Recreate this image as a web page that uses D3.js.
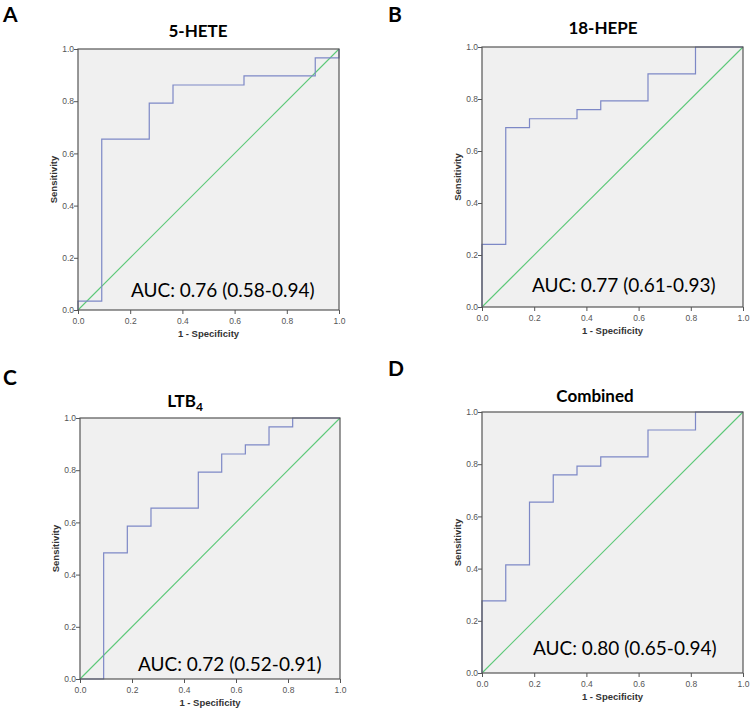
<!DOCTYPE html>
<html>
<head>
    <title>ROC curves</title>
</head>
<body style="margin:0;background:#fff;">
<script type="text/javascript" src="https://cdnjs.cloudflare.com/ajax/libs/d3/7.8.5/d3.min.js"></script>
<svg id='renderer' width="750" height="711"></svg>

<script type="text/javascript">
    // data : ROC corner points (1 - specificity, sensitivity)
    var panelLetters = ['A', 'B', 'C', 'D'];
    var panelTitles = ['5-HETE', '18-HEPE', 'LTB4', 'Combined'];
    var aucLabels = ['AUC: 0.76 (0.58-0.94)', 'AUC: 0.77 (0.61-0.93)', 'AUC: 0.72 (0.52-0.91)', 'AUC: 0.80 (0.65-0.94)'];

    var fprA = [0, 0, 0.091, 0.273, 0.364, 0.636, 0.909, 1];
    var tprA = [0, 0.034, 0.655, 0.793, 0.862, 0.897, 0.966, 1];

    var fprB = [0, 0, 0.091, 0.182, 0.364, 0.455, 0.636, 0.818, 1];
    var tprB = [0, 0.241, 0.690, 0.724, 0.759, 0.793, 0.897, 1, 1];

    var fprC = [0, 0.091, 0.182, 0.273, 0.455, 0.545, 0.636, 0.727, 0.818, 1];
    var tprC = [0, 0.483, 0.586, 0.655, 0.793, 0.862, 0.897, 0.966, 1, 1];

    var fprD = [0, 0, 0.091, 0.182, 0.273, 0.364, 0.455, 0.636, 0.818, 1];
    var tprD = [0, 0.276, 0.414, 0.655, 0.759, 0.793, 0.828, 0.931, 1, 1];

    var tickValues = [0, 0.2, 0.4, 0.6, 0.8, 1.0];

    var fprs = [fprA, fprB, fprC, fprD];
    var tprs = [tprA, tprB, tprC, tprD];

    // layout of each panel (plot box, title, letter, auc text)
    var layout = [
        { x0: 78, x1: 339, y0: 49, y1: 310, titleX: 198, titleY: 37, letterX: 3, letterY: 22, aucX: 131, aucY: 297 },
        { x0: 482, x1: 743, y0: 47, y1: 307, titleX: 603, titleY: 34, letterX: 388, letterY: 22, aucX: 532, aucY: 292 },
        { x0: 80, x1: 340, y0: 418, y1: 679, titleX: 185, titleY: 407, letterX: 3, letterY: 385, aucX: 138, aucY: 671 },
        { x0: 482, x1: 743, y0: 412, y1: 673, titleX: 595, titleY: 402, letterX: 388, letterY: 376, aucX: 533, aucY: 655 }
    ];

    var root = d3.select('#renderer');

    for (var i = 0; i < 4; i++) {
        var L = layout[i];
        var x = d3.scaleLinear().domain([0, 1]).range([L.x0, L.x1]);
        var y = d3.scaleLinear().domain([0, 1]).range([L.y1, L.y0]);
        var g = root.append('g');

        // panel letter
        g.append('text')
            .attr('x', L.letterX).attr('y', L.letterY)
            .attr('font-family', 'Lato, sans-serif')
            .attr('font-weight', 'bold')
            .attr('font-size', 21)
            .attr('fill', '#000')
            .text(panelLetters[i]);

        // title (LTB4 gets a subscript 4)
        var title = g.append('text')
            .attr('x', L.titleX).attr('y', L.titleY)
            .attr('text-anchor', 'middle')
            .attr('font-family', 'Lato, sans-serif')
            .attr('font-weight', 'bold')
            .attr('font-size', 17)
            .attr('fill', '#000');
        if (panelTitles[i] === 'LTB4') {
            title.append('tspan').text('LTB');
            title.append('tspan').attr('dy', 4).attr('font-size', 12).text('4');
        } else {
            title.text(panelTitles[i]);
        }

        // plot background
        g.append('rect')
            .attr('x', L.x0).attr('y', L.y0)
            .attr('width', L.x1 - L.x0).attr('height', L.y1 - L.y0)
            .attr('fill', '#f0f0f0');

        // diagonal reference line
        g.append('line')
            .attr('x1', x(0)).attr('y1', y(0))
            .attr('x2', x(1)).attr('y2', y(1))
            .attr('stroke', '#5cc878')
            .attr('stroke-width', 1.1);

        // roc step curve
        var pts = fprs[i].map(function (f, k) { return [f, tprs[i][k]]; });
        var line = d3.line()
            .x(function (d) { return x(d[0]); })
            .y(function (d) { return y(d[1]); })
            .curve(d3.curveStepAfter);
        g.append('path')
            .attr('d', line(pts))
            .attr('fill', 'none')
            .attr('stroke', '#7d88c6')
            .attr('stroke-width', 1.2);

        // frame
        g.append('rect')
            .attr('x', L.x0).attr('y', L.y0)
            .attr('width', L.x1 - L.x0).attr('height', L.y1 - L.y0)
            .attr('fill', 'none')
            .attr('stroke', '#555')
            .attr('stroke-width', 1.2);

        // axes
        var xAxis = d3.axisBottom(x).tickValues(tickValues).tickFormat(d3.format('.1f')).tickSize(4).tickSizeOuter(0);
        var yAxis = d3.axisLeft(y).tickValues(tickValues).tickFormat(d3.format('.1f')).tickSize(4).tickSizeOuter(0);

        var gx = g.append('g').attr('transform', 'translate(0,' + L.y1 + ')').call(xAxis);
        var gy = g.append('g').attr('transform', 'translate(' + L.x0 + ',0)').call(yAxis);
        [gx, gy].forEach(function (ax) {
            ax.select('.domain').remove();
            ax.selectAll('line').attr('stroke', '#555');
            ax.selectAll('text')
                .attr('font-family', 'Liberation Sans, Arial, sans-serif')
                .attr('font-size', 8.5)
                .attr('fill', '#555');
        });
        gx.selectAll('text').attr('dy', '0.85em');
        gy.selectAll('text').attr('x', -4);

        // axis labels
        g.append('text')
            .attr('x', (L.x0 + L.x1) / 2).attr('y', L.y1 + 27)
            .attr('text-anchor', 'middle')
            .attr('font-family', 'Liberation Sans, Arial, sans-serif')
            .attr('font-weight', 'bold')
            .attr('font-size', 9.5)
            .attr('fill', '#333')
            .text('1 - Specificity');

        g.append('text')
            .attr('transform', 'translate(' + (L.x0 - 21) + ',' + ((L.y0 + L.y1) / 2) + ') rotate(-90)')
            .attr('text-anchor', 'middle')
            .attr('font-family', 'Liberation Sans, Arial, sans-serif')
            .attr('font-weight', 'bold')
            .attr('font-size', 9.5)
            .attr('fill', '#333')
            .text('Sensitivity');

        // auc annotation
        g.append('text')
            .attr('x', L.aucX).attr('y', L.aucY)
            .attr('font-family', 'Lato, sans-serif')
            .attr('font-size', 19)
            .attr('fill', '#000')
            .text(aucLabels[i]);
    }
</script>
</body>
</html>
